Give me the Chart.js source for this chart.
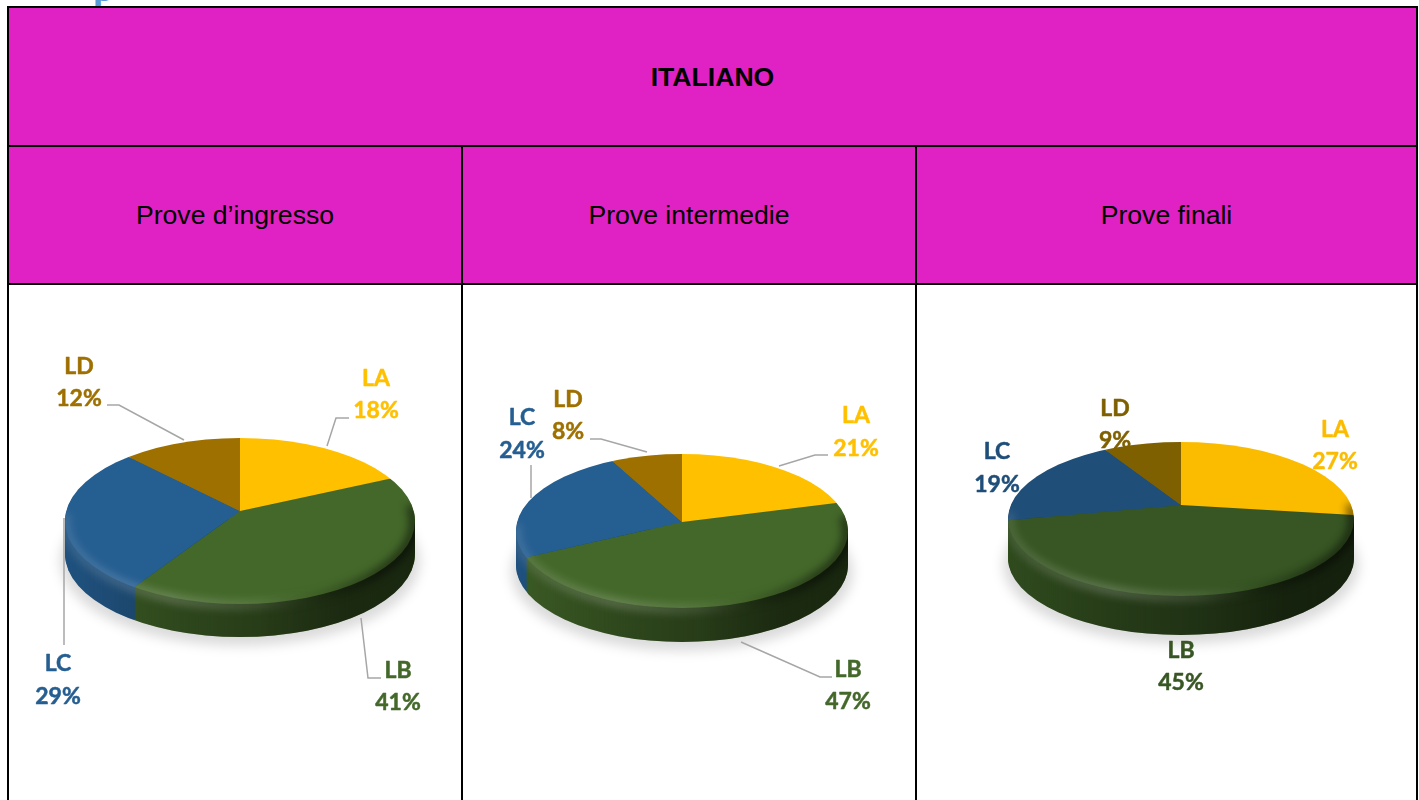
<!DOCTYPE html>
<html lang="it"><head><meta charset="utf-8"><title>Italiano</title>
<script src="https://cdn.jsdelivr.net/npm/chart.js@4"></script>
<style>
html,body{margin:0;padding:0;background:#fff;width:1419px;height:800px;overflow:hidden}
.c{position:absolute;box-sizing:border-box;background:#e022c5;display:flex;align-items:center;justify-content:center;color:#000;font-family:"Liberation Sans",Arial,sans-serif;font-size:26.6px;padding-top:1px}
.l{position:absolute;background:#000}
canvas{position:absolute;display:block}
#stub{position:absolute;left:93px;top:-30px;font:bold 38px/36px "Liberation Serif",serif;color:#5b9bd5}
</style></head><body>
<div id="stub">p</div>
<div class="c" style="left:8px;top:7px;width:1409px;height:139px;font-weight:bold" id="title"></div>
<div class="c hd" style="left:8px;top:146px;width:454px;height:138px"></div>
<div class="c hd" style="left:462px;top:146px;width:454px;height:138px"></div>
<div class="c hd" style="left:916px;top:146px;width:501px;height:138px"></div>
<div class="l" style="left:7px;top:6px;width:2px;height:794px"></div>
<div class="l" style="left:7px;top:6px;width:1411px;height:2px"></div>
<div class="l" style="left:7px;top:145px;width:1411px;height:2px"></div>
<div class="l" style="left:7px;top:283px;width:1411px;height:2px"></div>
<div class="l" style="left:461px;top:145px;width:2px;height:655px"></div>
<div class="l" style="left:915px;top:145px;width:2px;height:655px"></div>
<div class="l" style="left:1416px;top:6px;width:2px;height:794px"></div>
<canvas id="p1" width="452" height="515" style="left:9px;top:285px"></canvas>
<canvas id="p2" width="452" height="515" style="left:463px;top:285px"></canvas>
<canvas id="p3" width="499" height="515" style="left:917px;top:285px"></canvas>
<script>
const titleText = 'ITALIANO';
const columnTitles = ['Prove d’ingresso', 'Prove intermedie', 'Prove finali'];
const categories = ['LA', 'LB', 'LC', 'LD'];
const proveIngresso = [18, 41, 29, 12];
const proveIntermedie = [21, 47, 24, 8];
const proveFinali = [27, 45, 19, 9];
const paletteLight = ['#ffc000', '#44682a', '#255e91', '#9e7000'];
const paletteDark = ['#fbbc00', '#375623', '#1f4e79', '#7f6000'];

document.getElementById('title').textContent = titleText;
document.querySelectorAll('.hd').forEach((el, i) => el.textContent = columnTitles[i]);

const TAU = Math.PI * 2;
function pie(id, left, top, values, colors, shape, labelPos, leaders) {
  const plug = {
    id: 'tilted' + id,
    beforeDatasetsDraw(chart) {
      const ctx = chart.ctx, arcs = chart.getDatasetMeta(0).data;
      const R = arcs[0].outerRadius;
      const ax = shape.ax - left, ay = shape.ay - top, cy = shape.cy - top;
      const cx = ax, rx = shape.rx, ry = shape.ry, d = shape.depth, tilt = shape.tilt;
      const sx = 1.5 * rx / R, sy = 1.5 * tilt / R;
      const wedges = dy => {
        ctx.save();
        ctx.beginPath(); ctx.ellipse(cx, cy + dy, rx, ry, 0, 0, TAU); ctx.clip();
        ctx.translate(ax, ay + dy); ctx.scale(sx, sy);
        arcs.forEach(a => { ctx.save(); ctx.translate(-a.x, -a.y); a.draw(ctx); ctx.restore(); });
        ctx.restore();
      };
      const solid = () => {
        ctx.beginPath();
        ctx.ellipse(cx, cy + d, rx, ry, 0, 0, Math.PI);
        ctx.lineTo(cx - rx, cy);
        ctx.ellipse(cx, cy, rx, ry, 0, Math.PI, TAU);
        ctx.lineTo(cx + rx, cy + d);
        ctx.closePath();
      };
      // side wall
      for (let dy = d; dy > 0; dy -= 1) wedges(dy);
      ctx.save(); solid(); ctx.clip();
      let g = ctx.createLinearGradient(cx - rx, 0, cx + rx, 0);
      g.addColorStop(0, 'rgba(0,0,0,.12)'); g.addColorStop(.3, 'rgba(0,0,0,.3)');
      g.addColorStop(.55, 'rgba(0,0,0,.42)');
      g.addColorStop(.8, 'rgba(0,0,0,.6)'); g.addColorStop(1, 'rgba(0,0,0,.62)');
      ctx.fillStyle = g; ctx.fillRect(cx - rx - 2, cy - 2, 2 * rx + 4, ry + d + 6);
      ctx.restore();
      // top face
      wedges(0);
      // bevel along the rim
      ctx.save(); solid(); ctx.clip();
      ctx.filter = 'blur(4px)';
      g = ctx.createLinearGradient(cx - rx, 0, cx + rx, 0);
      g.addColorStop(0, 'rgba(255,255,255,.12)'); g.addColorStop(.3, 'rgba(255,255,255,.22)');
      g.addColorStop(.55, 'rgba(255,255,255,.12)'); g.addColorStop(.72, 'rgba(0,0,0,.1)');
      g.addColorStop(.9, 'rgba(0,0,0,.5)'); g.addColorStop(1, 'rgba(0,0,0,.55)');
      ctx.strokeStyle = g; ctx.lineWidth = 9;
      ctx.beginPath(); ctx.ellipse(cx, cy + 1, rx - 1, ry, 0, -0.2, Math.PI + 0.1); ctx.stroke();
      ctx.restore();
      // soft ground shadow behind everything
      ctx.save();
      ctx.globalCompositeOperation = 'destination-over';
      ctx.filter = 'blur(6px)';
      ctx.fillStyle = 'rgba(0,0,0,.14)';
      ctx.beginPath(); ctx.ellipse(cx, cy + d + 7, rx + 5, ry + 2, 0, 0, TAU); ctx.fill();
      ctx.restore();
      return false;
    },
    afterDraw(chart) {
      const ctx = chart.ctx;
      ctx.save();
      ctx.strokeStyle = '#a6a6a6'; ctx.lineWidth = 1.5;
      leaders.forEach(pl => {
        ctx.beginPath();
        pl.forEach((p, i) => i ? ctx.lineTo(p[0] - left, p[1] - top) : ctx.moveTo(p[0] - left, p[1] - top));
        ctx.stroke();
      });
      ctx.font = 'bold 23px Lato, sans-serif';
      ctx.textAlign = 'center'; ctx.textBaseline = 'middle';
      ctx.lineWidth = 0.5; ctx.lineJoin = 'round';
      categories.forEach((c, i) => {
        ctx.fillStyle = colors[i]; ctx.strokeStyle = colors[i];
        const p = labelPos[i];
        [[c, p[1]], [values[i] + '%', p[2]]].forEach(([t, y]) => {
          ctx.fillText(t, p[0] - left, y + 1 - top);
          ctx.strokeText(t, p[0] - left, y + 1 - top);
        });
      });
      ctx.restore();
    }
  };
  new Chart(document.getElementById(id), {
    type: 'pie',
    data: { labels: categories, datasets: [{ data: values, backgroundColor: colors, borderWidth: 0 }] },
    options: {
      responsive: false, animation: false,
      plugins: { legend: { display: false }, tooltip: { enabled: false } }
    },
    plugins: [plug]
  });
}

pie('p1', 9, 285, proveIngresso, paletteLight,
  { ax: 240, ay: 511, cy: 521, rx: 175, ry: 83, depth: 33, tilt: 80 },
  [[376, 378, 410], [398, 670, 702], [58, 663, 696], [79, 366, 398]],
  [[[327, 446], [336, 418], [349, 418]],
   [[361, 618], [368, 678], [381, 678]],
   [[64, 518], [64, 645]],
   [[107, 405], [119, 405], [184, 440]]]);
pie('p2', 463, 285, proveIntermedie, paletteLight,
  { ax: 682, ay: 522, cy: 531, rx: 166, ry: 77, depth: 34, tilt: 80 },
  [[856, 415, 448], [848, 669, 701], [522, 417, 450], [568, 399, 431]],
  [[[779, 466], [815, 455], [828, 455]],
   [[741, 642], [820, 677], [832, 677]],
   [[531, 498], [531, 465]],
   [[590, 439], [601, 439], [647, 452]]]);
pie('p3', 917, 285, proveFinali, paletteDark,
  { ax: 1181, ay: 505, cy: 519, rx: 173, ry: 77, depth: 39, tilt: 80 },
  [[1335, 429, 461], [1181, 650, 682], [997, 451, 484], [1115, 408, 440]],
  []);
</script>
</body></html>
